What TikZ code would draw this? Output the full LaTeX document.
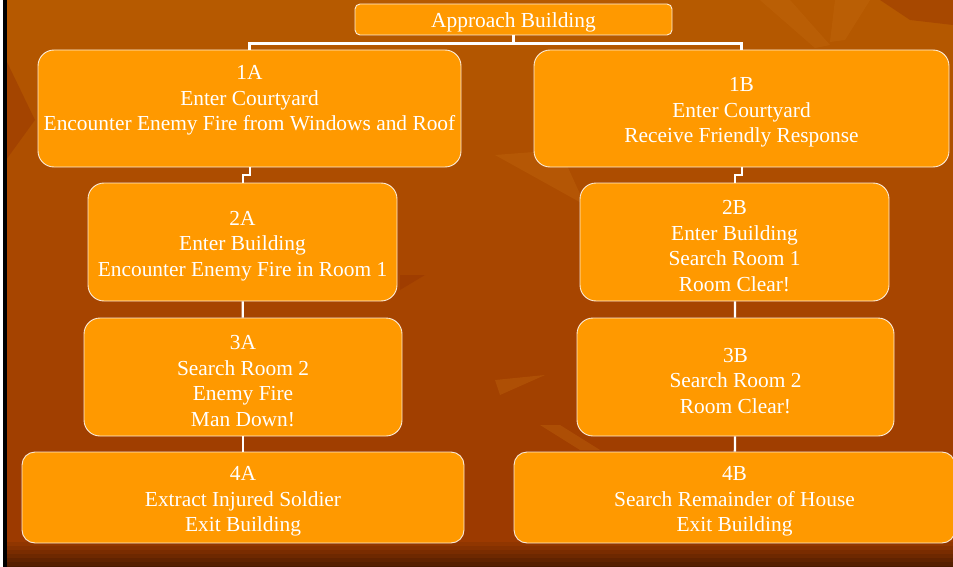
\documentclass[tikz,border=0pt]{standalone}
\usepackage{fontspec}
\setmainfont{Liberation Serif}
\usetikzlibrary{calc}
\definecolor{boxorange}{HTML}{FF9900}
\definecolor{bgtop}{HTML}{B65A00}
\definecolor{bgmid}{HTML}{A84600}
\definecolor{bglow}{HTML}{9C3A00}
\definecolor{bgdark}{HTML}{4A1A00}
\definecolor{leaflight}{HTML}{C46A10}
\definecolor{leafdark}{HTML}{963400}
\newcommand{\lowtext}{\mbox{}\\[-3.6pt]}
\tikzset{
  stepbox/.style={draw=white, draw opacity=0.85, line width=0.9pt, fill=boxorange,
    rounded corners=16pt, align=center, text=white, inner sep=2pt,
    font=\fontsize{21.4}{25.7}\selectfont},
  topbox/.style={stepbox, rounded corners=5pt},
  lowbox/.style={stepbox, rounded corners=13pt},
  link/.style={draw=white, line width=2.3pt},
  leaf/.style={fill=leaflight, fill opacity=0.35, draw=none},
  shade/.style={fill=leafdark, fill opacity=0.45, draw=none}
}
\begin{document}
\begin{tikzpicture}[x=1pt,y=-1pt]
  \useasboundingbox (0,0) rectangle (953,567);
  \clip (0,0) rectangle (953,567);
  % background
  \foreach \i in {0,...,26} {
    \pgfmathsetmacro\p{100*\i/26}
    \fill[bgmid!\p!bgtop] (0,\i*10) rectangle (953,\i*10+10.5);
    \fill[bglow!\p!bgmid] (0,270+\i*10) rectangle (953,280.5+\i*10);
  }
  \foreach \i in {0,...,7} {
    \pgfmathsetmacro\p{100*\i/7}
    \fill[bgdark!\p!bglow] (0,538+\i*4) rectangle (953,542.5+\i*4);
  }
  \fill[leaf] (760,0) -- (790,0) -- (830,45) -- (815,48) -- cycle;
  \fill[leaf] (835,0) -- (870,0) -- (845,40) -- (830,42) -- cycle;
  \fill[shade] (880,0) -- (953,0) -- (953,25) -- (910,20) -- cycle;
  \fill[leaf] (495,155) -- (560,150) -- (585,205) -- (540,180) -- cycle;
  \fill[shade] (400,275) -- (425,275) -- (400,290) -- cycle;
  \fill[leaf] (495,380) -- (545,375) -- (500,395) -- cycle;
  \fill[leaf] (540,425) -- (560,425) -- (600,450) -- (580,450) -- cycle;
  \fill[shade] (6,60) -- (35,120) -- (6,160) -- cycle;
  \fill[white] (0,0) rectangle (2.5,567);
  \fill[black] (2.5,0) rectangle (6.5,567);
  % boxes
  \node[topbox, minimum width=317pt, minimum height=31pt] (approach) at (513.5,19.5)
    {\mbox{}\\[-5.6pt]Approach Building};
  \node[stepbox, minimum width=423pt, minimum height=117pt] (a1) at (249.5,108.5)
    {1A\\Enter Courtyard\\Encounter Enemy Fire from Windows and Roof\\[-5pt]\mbox{}};
  \node[stepbox, minimum width=415pt, minimum height=117pt] (b1) at (741.5,108.5)
    {\lowtext 1B\\Enter Courtyard\\Receive Friendly Response};
  \node[stepbox, minimum width=309pt, minimum height=118pt] (a2) at (242.5,242)
    {\lowtext 2A\\Enter Building\\Encounter Enemy Fire in Room 1};
  \node[stepbox, minimum width=309pt, minimum height=118pt] (b2) at (734.5,242)
    {\lowtext 2B\\Enter Building\\Search Room 1\\Room Clear!};
  \node[stepbox, minimum width=318pt, minimum height=118pt] (a3) at (243,377)
    {\lowtext 3A\\Search Room 2\\Enemy Fire\\Man Down!};
  \node[stepbox, minimum width=317pt, minimum height=118pt] (b3) at (735.5,377)
    {\lowtext 3B\\Search Room 2\\Room Clear!};
  \node[lowbox, minimum width=442pt, minimum height=91pt] (a4) at (243,497.5)
    {\lowtext 4A\\Extract Injured Soldier\\Exit Building};
  \node[lowbox, minimum width=441pt, minimum height=91pt] (b4) at (734.5,497.5)
    {\lowtext 4B\\Search Remainder of House\\Exit Building};
  % connectors
  \coordinate (split) at ($(approach.south)+(0,8)$);
  \draw[link] (approach.south) -- (split);
  \draw[link] (a1.north) |- (split) -| (b1.north);
  \draw[link, line width=2pt] (a1.south) -- ++(0,8) -| (a2.north);
  \draw[link, line width=2pt] (b1.south) -- ++(0,8) -| (b2.north);
  \draw[link] (a2) -- (a3);
  \draw[link] (a3) -- (a4);
  \draw[link] (b2) -- (b3);
  \draw[link] (b3) -- (b4);
\end{tikzpicture}
\end{document}
